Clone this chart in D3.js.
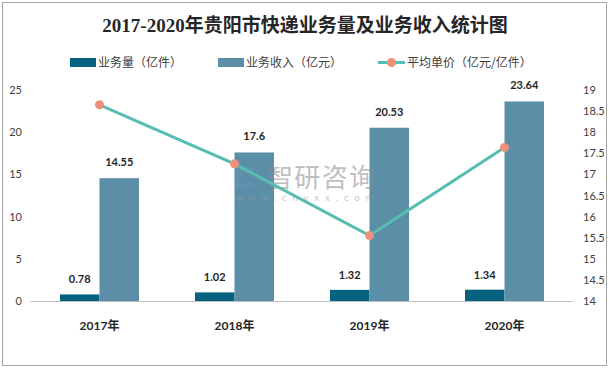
<!DOCTYPE html>
<html><head><meta charset="utf-8">
<script src="https://cdn.jsdelivr.net/npm/d3@7/dist/d3.min.js"></script>
<style>body{margin:0;background:#fff}svg{display:block}</style>
</head><body>
<svg id="c" width="609" height="369"></svg>
<script>
const categories = ["2017年","2018年","2019年","2020年"];
const volume = [0.78, 1.02, 1.32, 1.34];
const revenue = [14.55, 17.6, 20.53, 23.64];
const unitPrice = [18.65, 17.25, 15.55, 17.64];
const leftTicks = [0,5,10,15,20,25];
const rightTicks = [14,14.5,15,15.5,16,16.5,17,17.5,18,18.5,19];
const seriesNames = ["业务量（亿件）","业务收入（亿元）","平均单价（亿元/亿件）"];
const title = "2017-2020年贵阳市快递业务量及业务收入统计图";

const svg = d3.select("#c");
const W=609,H=369;
const dark="#06627f", light="#5b8fa8", lineC="#58bdb1", mark="#ee917b";
const lf = "Lato, 'Noto Sans CJK SC', sans-serif";

svg.append("rect").attr("x",2.5).attr("y",2.5).attr("width",W-5).attr("height",H-6)
  .attr("fill","#fff").attr("stroke","#a6a6a6");

svg.append("text").attr("x",305).attr("y",32).attr("text-anchor","middle")
  .attr("font-family","'Liberation Serif','Noto Sans CJK SC',serif").attr("font-weight","bold")
  .attr("font-size",19).attr("fill","#262626").text(title);

const x0 = d3.scaleBand().domain(categories).range([32,572]).paddingInner(0).paddingOuter(0);
const x1 = d3.scaleBand().domain(["v","r"]).range([0,x0.bandwidth()]).paddingInner(0).paddingOuter(0.709);
const yL = d3.scaleLinear().domain([0,25]).range([301,90]);
const yR = d3.scaleLinear().domain([14,19]).range([301,90]);

// axes
const axL = svg.append("g").attr("transform","translate(30,0)")
  .call(d3.axisLeft(yL).tickValues(leftTicks).tickSize(0).tickPadding(8).tickFormat(d3.format("d")));
axL.select(".domain").remove();
axL.selectAll("text").attr("font-family",lf).attr("font-size",11).attr("fill","#404040");

const axR = svg.append("g").attr("transform","translate(572,0)")
  .call(d3.axisRight(yR).tickValues(rightTicks).tickSize(0).tickPadding(11).tickFormat(d=>d3.format("")(d)));
axR.select(".domain").remove();
axR.selectAll("text").attr("font-family",lf).attr("font-size",11).attr("fill","#404040");

const axB = svg.append("g").attr("transform","translate(0,301)")
  .call(d3.axisBottom(x0).tickSize(0).tickPadding(20));
axB.select(".domain").attr("stroke","#bfbfbf").attr("d","M30.5,0.5H572.5");
axB.selectAll("text").attr("font-family",lf).attr("font-size",12).attr("font-weight","bold").attr("fill","#262626");

// bars
const g = svg.append("g");
categories.forEach((c,i)=>{
  const bx = x0(c);
  g.append("rect").attr("x",bx+x1("v")).attr("y",yL(volume[i])).attr("width",x1.bandwidth())
    .attr("height",yL(0)-yL(volume[i])).attr("fill",dark);
  g.append("rect").attr("x",bx+x1("r")).attr("y",yL(revenue[i])).attr("width",x1.bandwidth())
    .attr("height",yL(0)-yL(revenue[i])).attr("fill",light);
  g.append("text").attr("x",bx+x1("v")+x1.bandwidth()/2).attr("y",yL(volume[i])-11)
    .attr("text-anchor","middle").attr("font-family",lf).attr("font-weight","bold").attr("font-size",11)
    .attr("fill","#262626").text(volume[i]);
  g.append("text").attr("x",bx+x1("r")+x1.bandwidth()/2).attr("y",yL(revenue[i])-12)
    .attr("text-anchor","middle").attr("font-family",lf).attr("font-weight","bold").attr("font-size",11)
    .attr("fill","#262626").text(revenue[i]);
});

// watermark
const wm = svg.append("g").attr("opacity",0.55);
wm.append("text").attr("x",267).attr("y",187).attr("font-family","'Noto Sans CJK SC',sans-serif")
  .attr("font-size",26).attr("fill","#8c8c8c").attr("textLength",108).text("智研咨询");
wm.append("text").attr("x",236).attr("y",201).attr("font-family","'DejaVu Sans',sans-serif")
  .attr("font-size",9).attr("fill","#9a9a9a").attr("textLength",138).text("www.chyxx.com");
wm.append("path").attr("d","M236,167h18v4h-13v12h13v4h-18z").attr("fill","#6e98c0").attr("opacity",0.7);

// line
const line = d3.line().x((d,i)=>x0(categories[i])+x0.bandwidth()/2).y(d=>yR(d));
svg.append("path").datum(unitPrice).attr("d",line).attr("fill","none").attr("stroke",lineC).attr("stroke-width",3);
svg.selectAll(".pt").data(unitPrice).enter().append("circle")
  .attr("cx",(d,i)=>x0(categories[i])+x0.bandwidth()/2).attr("cy",d=>yR(d)).attr("r",4.5).attr("fill",mark);

// legend
const lg = svg.append("g").attr("font-family","'Noto Sans CJK SC',sans-serif").attr("font-size",12).attr("fill","#404040");
lg.append("rect").attr("x",70).attr("y",58).attr("width",26).attr("height",9).attr("fill",dark);
lg.append("text").attr("x",98).attr("y",67).text(seriesNames[0]);
lg.append("rect").attr("x",218).attr("y",58).attr("width",26).attr("height",9).attr("fill",light);
lg.append("text").attr("x",246).attr("y",67).text(seriesNames[1]);
lg.append("line").attr("x1",378).attr("x2",405).attr("y1",62.5).attr("y2",62.5).attr("stroke",lineC).attr("stroke-width",3);
lg.append("circle").attr("cx",391.5).attr("cy",62.5).attr("r",4.5).attr("fill",mark);
lg.append("text").attr("x",407).attr("y",67).text(seriesNames[2]);
</script>
</body></html>
